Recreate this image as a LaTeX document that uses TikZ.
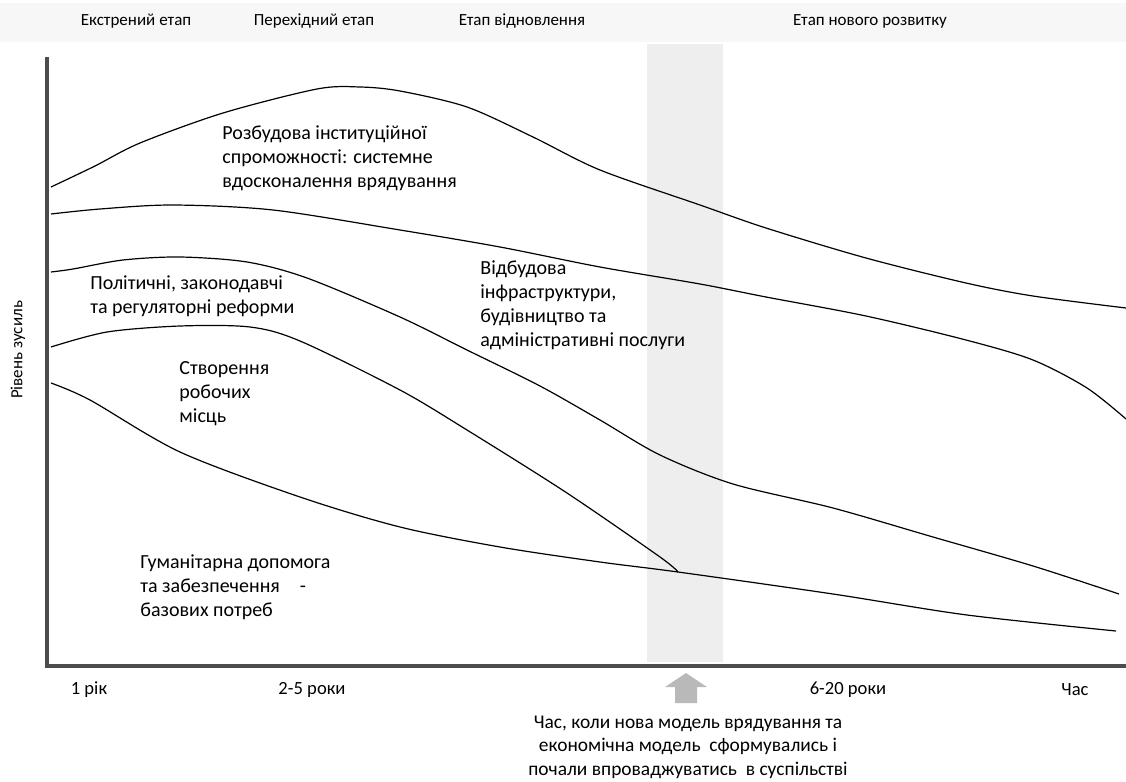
\documentclass[tikz,border=0pt]{standalone}
\usepackage{fontspec}
\setmainfont{Carlito}
\usepackage{tikz}
\usetikzlibrary{arrows}
\newcommand{\lbl}{\fontsize{10}{12}\selectfont}
\newcommand{\tck}{\fontsize{9.3}{11}\selectfont}
\newcommand{\stg}{\fontsize{8.5}{10}\selectfont}

\begin{document}
\begin{tikzpicture}[x=0.5pt, y=-0.5pt,
	curve/.style={line width=0.6pt},
	axis/.style={line width=1.6pt, gray!60!black},
	txt/.style={font=\lbl, inner sep=0pt, align=left, anchor=west}]
	\useasboundingbox (0,0) rectangle (1126,782);
	\fill [gray!6] (0,3) rectangle (1126,42);
	\fill [gray!13] (647,44) rectangle (723,662);
	\node [font=\stg] (st1) at (136,21) {Екстрений етап};
	\node [font=\stg] (st2) at (314,21) {Перехідний етап};
	\node [font=\stg] (st3) at (522,21) {Етап відновлення};
	\node [font=\stg] (st4) at (870,21) {Етап нового розвитку};
	\node [font=\stg, rotate=90] (yl) at (18,350) {Рівень зусиль};
	\coordinate (top) at (47,57);
	\coordinate (o) at (47,666);
	\coordinate (end) at (1126,666);
	\draw [axis] (top) -- (o) -- (end);
	\draw [curve] plot [smooth] coordinates {(51,187) (95,166) (140,143) (223,113)
	  (317,89) (360,87) (400,91) (467,107) (533,137) (600,170) (700,205) (766,228)
	  (866,258) (966,283) (1033,296) (1126,308)};
	\draw [curve] plot [smooth] coordinates {(51,214) (100,209) (173,205) (273,210)
	  (400,230) (500,247) (600,267) (700,284) (766,297) (866,316) (966,340)
	  (1033,360) (1087,388) (1126,419)};
	\draw [curve] plot [smooth] coordinates {(51,272) (73,269) (123,260) (180,257)
	  (247,262) (307,278) (400,317) (467,350) (540,386) (600,420) (660,455)
	  (733,484) (833,508) (933,537) (1033,566) (1119,594)};
	\draw [curve] plot [smooth] coordinates {(51,347) (107,332) (180,326) (250,327)
	  (300,341) (400,390) (467,430) (567,493) (660,557) (678,572)};
	\draw [curve] plot [smooth] coordinates {(51,383) (90,400) (180,452) (300,497)
	  (400,527) (500,547) (600,562) (678,572) (833,594) (967,615) (1116,631)};
	\node [txt] (inst) at (222,158) {Розбудова інституційної\\спроможності: системне\\вдосконалення врядування};
	\node [txt] (pol) at (90,296) {Політичні, законодавчі\\та регуляторні реформи};
	\node [txt] (jobs) at (179,394) {Створення\\робочих\\місць};
	\node [txt] (infra) at (480,305) {Відбудова\\інфраструктури,\\будівництво та\\адміністративні послуги};
	\node [txt] (hum) at (140,587) {Гуманітарна допомога\\та забезпечення\quad -\\базових потреб};
	\node [font=\tck] (t1) at (89,690) {1 рік};
	\node [font=\tck] (t2) at (312,690) {2-5 роки};
	\node [font=\tck] (t3) at (848,690) {6-20 роки};
	\node [font=\tck] (t4) at (1075,690) {Час};
	\fill [gray!55] (675,703) -- (697,703) -- (697,687) -- (707,687)
	  -- (686,673) -- (665,687) -- (675,687) -- cycle;
	\node [font=\fontsize{9.7}{11.8}\selectfont, align=center] (note) at (688,747)
	  {Час, коли нова модель врядування та\\економічна модель\ \ сформувались і\\почали впроваджуватись\ \ в суспільстві};
\end{tikzpicture}
\end{document}
